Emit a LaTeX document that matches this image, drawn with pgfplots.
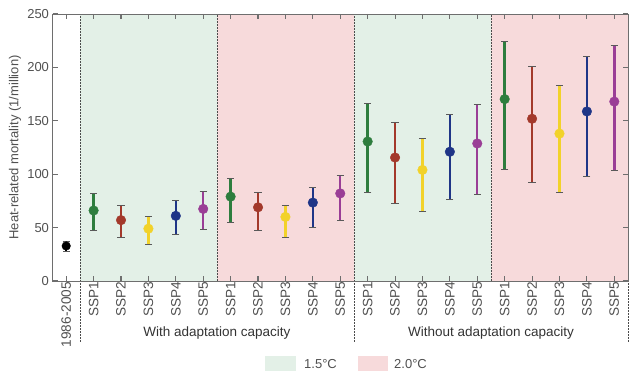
\documentclass[border=0pt]{standalone}
\usepackage{pgfplots}
\pgfplotsset{compat=1.18}
\usepackage{fontspec}
\setmainfont{Liberation Sans}
\definecolor{cS1}{HTML}{2E7D3E}
\definecolor{cS2}{HTML}{A3392B}
\definecolor{cS3}{HTML}{F2D22A}
\definecolor{cS4}{HTML}{1F3587}
\definecolor{cS5}{HTML}{9A3E96}
\definecolor{bgG}{HTML}{E3F0E7}
\definecolor{bgP}{HTML}{F7DADB}
\definecolor{axg}{HTML}{6E6E6E}
\definecolor{txg}{HTML}{505050}
\begin{document}
\begin{tikzpicture}[x=1pt,y=1pt]
\path[use as bounding box] (0,0) rectangle (640,382);
\begin{axis}[
  at={(52.5pt,101pt)}, anchor=south west,
  scale only axis, width=575.5pt, height=267pt,
  xmin=-0.5, xmax=20.5, ymin=0, ymax=250,
  ytick={0,50,100,150,200,250},
  xtick={0,...,20},
  xticklabels={1986-2005,SSP1,SSP2,SSP3,SSP4,SSP5,SSP1,SSP2,SSP3,SSP4,SSP5,SSP1,SSP2,SSP3,SSP4,SSP5,SSP1,SSP2,SSP3,SSP4,SSP5},
  x tick label style={rotate=90, anchor=east, font=\fontsize{13.6}{16}\selectfont, text=txg, inner sep=1pt},
  y tick label style={font=\fontsize{13}{15}\selectfont, text=txg},
  /pgf/number format/assume math mode=true,
  tick align=inside, major tick length=5pt,
  axis line style={axg, line width=0.8pt},
  major tick style={axg, line width=1.1pt},
  clip=false, axis on top,
  error bars/y dir=both, error bars/y explicit,
  error bars/error bar style={line width=2.4pt, solid},
  error bars/error mark options={rotate=90, mark size=3.6pt, line width=0.9pt, black!65},
]
% backgrounds
\fill[bgG] (axis cs:0.5,0) rectangle (axis cs:5.5,250);
\fill[bgP] (axis cs:5.5,0) rectangle (axis cs:10.5,250);
\fill[bgG] (axis cs:10.5,0) rectangle (axis cs:15.5,250);
\fill[bgP] (axis cs:15.5,0) rectangle (axis cs:20.5,250);
% separators
\draw[black!70, line width=0.8pt, dash pattern=on 1.5pt off 1.5pt] (axis cs:0.5,-57) -- (axis cs:0.5,250);
\draw[black!70, line width=0.8pt, dash pattern=on 1.5pt off 1.5pt] (axis cs:5.5,0) -- (axis cs:5.5,250);
\draw[black!70, line width=0.8pt, dash pattern=on 1.5pt off 1.5pt] (axis cs:10.5,-57) -- (axis cs:10.5,250);
\draw[black!70, line width=0.8pt, dash pattern=on 1.5pt off 1.5pt] (axis cs:15.5,0) -- (axis cs:15.5,250);
\draw[black!70, line width=0.8pt, dash pattern=on 1.5pt off 1.5pt] (axis cs:20.5,-57) -- (axis cs:20.5,250);
% data
\addplot[only marks, mark=*, mark size=4.3pt, color=black, mark options={fill=black}] coordinates {
 (0,32.8) += (0,4.2) -= (0,4.8)
};
\addplot[only marks, mark=*, mark size=4.8pt, color=cS1, mark options={fill=cS1}] coordinates {
 (1,66) += (0,15.6) -= (0,19)
 (6,79) += (0,16.6) -= (0,24)
 (11,130.6) += (0,36) -= (0,48.1)
 (16,170.3) += (0,54.4) -= (0,65.6)
};
\addplot[only marks, mark=*, mark size=4.8pt, color=cS2, mark options={fill=cS2}] coordinates {
 (2,57) += (0,13.6) -= (0,16)
 (7,69) += (0,14) -= (0,21.5)
 (12,115.6) += (0,32.8) -= (0,42.8)
 (17,151.9) += (0,48.7) -= (0,59.4)
};
\addplot[only marks, mark=*, mark size=4.8pt, color=cS3, mark options={fill=cS3}] coordinates {
 (3,49) += (0,11) -= (0,15)
 (8,60) += (0,11) -= (0,19.4)
 (13,104) += (0,29.75) -= (0,39.3)
 (18,138) += (0,45) -= (0,55)
};
\addplot[only marks, mark=*, mark size=4.8pt, color=cS4, mark options={fill=cS4}] coordinates {
 (4,61) += (0,14) -= (0,17)
 (9,73.4) += (0,14.6) -= (0,22.8)
 (14,121) += (0,34.6) -= (0,45)
 (19,158.75) += (0,51.25) -= (0,61.25)
};
\addplot[only marks, mark=*, mark size=4.8pt, color=cS5, mark options={fill=cS5}] coordinates {
 (5,67.5) += (0,16.5) -= (0,19.5)
 (10,82) += (0,16.4) -= (0,25)
 (15,128.75) += (0,36.55) -= (0,47.75)
 (20,168) += (0,53) -= (0,64.25)
};
\node[font=\fontsize{13.5}{15}\selectfont, text=black!80] at (axis cs:5.5,-48.5) {With adaptation capacity};
\node[font=\fontsize{13.5}{15}\selectfont, text=black!80] at (axis cs:15.5,-48.5) {Without adaptation capacity};
\end{axis}
\node[rotate=90, font=\fontsize{13}{15}\selectfont, text=txg] at (15,234.5) {Heat-related mortality (1/million)};
% legend
\fill[bgG] (265,11) rectangle (296,26);
\node[anchor=west, font=\fontsize{13}{15}\selectfont, text=txg, inner sep=0pt] at (304,18) {1.5°C};
\fill[bgP] (358,11) rectangle (388,26);
\node[anchor=west, font=\fontsize{13}{15}\selectfont, text=txg, inner sep=0pt] at (394,18) {2.0°C};
\end{tikzpicture}
\end{document}
